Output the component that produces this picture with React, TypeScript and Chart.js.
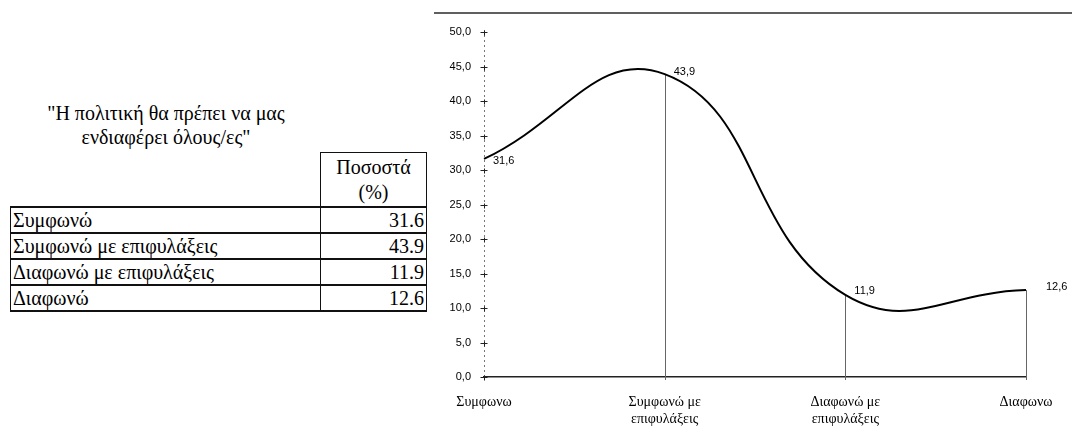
import React, { useEffect, useRef } from 'react';
import { Chart, registerables } from 'chart.js';

Chart.register(...registerables);

// ---- data ----
const titleLines = ['"Η πολιτική θα πρέπει να μας', 'ενδιαφέρει όλους/ες"'];
const tableHeader = ['Ποσοστά', '(%)'];
const tableRowLabels = ['Συμφωνώ', 'Συμφωνώ με επιφυλάξεις', 'Διαφωνώ με επιφυλάξεις', 'Διαφωνώ'];
const categoryLabels: string[][] = [
  ['Συμφωνω'],
  ['Συμφωνώ με', 'επιφυλάξεις'],
  ['Διαφωνώ με', 'επιφυλάξεις'],
  ['Διαφωνω'],
];
const percentages = [31.6, 43.9, 11.9, 12.6];
const yMin = 0;
const yMax = 50;
const yStep = 5;

const fmtComma = (v: number) => v.toFixed(1).replace('.', ',');

const SERIF = '"Liberation Serif", "DejaVu Serif", serif';
const SANS = '"Liberation Sans", Arial, sans-serif';

const decorPlugin = {
  id: 'decor',
  beforeDatasetsDraw(chart: any) {
    const { ctx, chartArea, scales } = chart;
    const y = scales.y;
    const line = (x1: number, y1: number, x2: number, y2: number) => {
      ctx.beginPath();
      ctx.moveTo(x1, y1);
      ctx.lineTo(x2, y2);
      ctx.stroke();
    };
    ctx.save();
    // top frame line
    ctx.strokeStyle = '#2a2a2a';
    ctx.lineWidth = 1.5;
    line(4, 13, chart.width, 13);
    // dotted y axis
    const ax = Math.round(chartArea.left) + 0.5;
    ctx.strokeStyle = '#777';
    ctx.lineWidth = 1;
    ctx.setLineDash([2, 3]);
    line(ax, chartArea.top - 2, ax, chartArea.bottom);
    ctx.setLineDash([]);
    // tick crosses
    ctx.strokeStyle = '#222';
    y.ticks.forEach((t: any) => {
      const py = Math.round(y.getPixelForValue(t.value)) + 0.5;
      line(ax - 4, py, ax + 3, py);
      line(ax, py - 2, ax, py + 3);
    });
    // drop lines from points to the axis
    const meta = chart.getDatasetMeta(0);
    ctx.strokeStyle = '#666';
    meta.data.forEach((pt: any, i: number) => {
      if (i === 0) return;
      const px = Math.round(pt.x) + 0.5;
      line(px, pt.y, px, chartArea.bottom);
      line(px, chartArea.bottom - 3, px, chartArea.bottom + 3);
    });
    ctx.restore();
  },
  afterDatasetsDraw(chart: any) {
    const { ctx } = chart;
    const meta = chart.getDatasetMeta(0);
    const values = chart.data.datasets[0].data as number[];
    ctx.save();
    ctx.fillStyle = '#000';
    ctx.font = `11px ${SANS}`;
    ctx.textAlign = 'left';
    ctx.textBaseline = 'middle';
    meta.data.forEach((pt: any, i: number) => {
      const dx = i === values.length - 1 ? 20 : 9;
      const dy = i === 2 ? -4 : i === 3 ? -3 : i === 1 ? -2 : 2;
      ctx.fillText(fmtComma(values[i]), pt.x + dx, pt.y + dy);
    });
    ctx.restore();
  },
};

function LineChart() {
  const ref = useRef<HTMLCanvasElement | null>(null);
  useEffect(() => {
    if (!ref.current) return;
    const chart = new Chart(ref.current, {
      type: 'line',
      data: {
        labels: categoryLabels,
        datasets: [
          {
            data: percentages,
            borderColor: '#000',
            borderWidth: 2,
            tension: 0.45,
            pointRadius: 0,
            fill: false,
          },
        ],
      },
      options: {
        responsive: false,
        animation: false,
        devicePixelRatio: 1,
        layout: { padding: { top: 32, right: 46, left: 0, bottom: 0 } },
        plugins: { legend: { display: false }, tooltip: { enabled: false } },
        scales: {
          x: {
            offset: false,
            grid: { display: false, drawTicks: false },
            border: { display: true, color: '#222', width: 1.5 },
            ticks: {
              color: '#000',
              font: { family: SERIF, size: 14 },
              padding: 17,
              maxRotation: 0,
              autoSkip: false,
            },
            afterFit: (s: any) => {
              s.height = 58;
            },
          },
          y: {
            min: yMin,
            max: yMax,
            grid: { display: false, drawTicks: false },
            border: { display: false },
            ticks: {
              stepSize: yStep,
              color: '#000',
              font: { family: SANS, size: 11 },
              padding: 13,
              callback: (v: any) => fmtComma(Number(v)),
            },
            afterFit: (s: any) => {
              s.width = 54;
            },
          },
        },
      },
      plugins: [decorPlugin],
    });
    return () => chart.destroy();
  }, []);
  return (
    <canvas
      ref={ref}
      width={642}
      height={435}
      style={{ position: 'absolute', left: 430, top: 0, width: 642, height: 435, display: 'block' }}
    />
  );
}

export default function App() {
  const hBorder = '2px solid #111';
  const vBorder = '1px solid #111';
  const cellText: React.CSSProperties = {
    fontFamily: SERIF,
    fontSize: 20,
    lineHeight: '24px',
    color: '#000',
    padding: 0,
    height: 24,
    overflow: 'hidden',
    whiteSpace: 'nowrap',
  };
  return (
    <div
      style={{
        position: 'absolute',
        left: 0,
        top: 0,
        width: 1072,
        height: 435,
        background: '#fff',
        overflow: 'hidden',
      }}
    >
      <div
        style={{
          position: 'absolute',
          left: 16,
          top: 101,
          width: 300,
          textAlign: 'center',
          fontFamily: SERIF,
          fontSize: 20,
          lineHeight: '24px',
          color: '#000',
        }}
      >
        {titleLines.map((t, i) => (
          <div key={i}>{t}</div>
        ))}
      </div>
      <table
        style={{
          position: 'absolute',
          left: 10,
          top: 152,
          borderCollapse: 'collapse',
          tableLayout: 'fixed',
          width: 416,
        }}
      >
        <colgroup>
          <col style={{ width: 310 }} />
          <col style={{ width: 106 }} />
        </colgroup>
        <tbody>
          <tr>
            <td style={{ padding: 0, border: 'none' }} />
            <td
              style={{
                ...cellText,
                height: 53,
                lineHeight: '25px',
                textAlign: 'center',
                borderTop: vBorder,
                borderLeft: vBorder,
                borderRight: vBorder,
              }}
            >
              {tableHeader.map((h, i) => (
                <div key={i}>{h}</div>
              ))}
            </td>
          </tr>
          {tableRowLabels.map((lab, i) => (
            <tr key={i}>
              <td
                style={{
                  ...cellText,
                  paddingLeft: 2,
                  borderTop: hBorder,
                  borderBottom: hBorder,
                  borderLeft: vBorder,
                  borderRight: vBorder,
                }}
              >
                {lab}
              </td>
              <td
                style={{
                  ...cellText,
                  textAlign: 'right',
                  paddingRight: 2,
                  borderTop: hBorder,
                  borderBottom: hBorder,
                  borderLeft: vBorder,
                  borderRight: vBorder,
                }}
              >
                {percentages[i].toFixed(1)}
              </td>
            </tr>
          ))}
        </tbody>
      </table>
      <LineChart />
    </div>
  );
}
